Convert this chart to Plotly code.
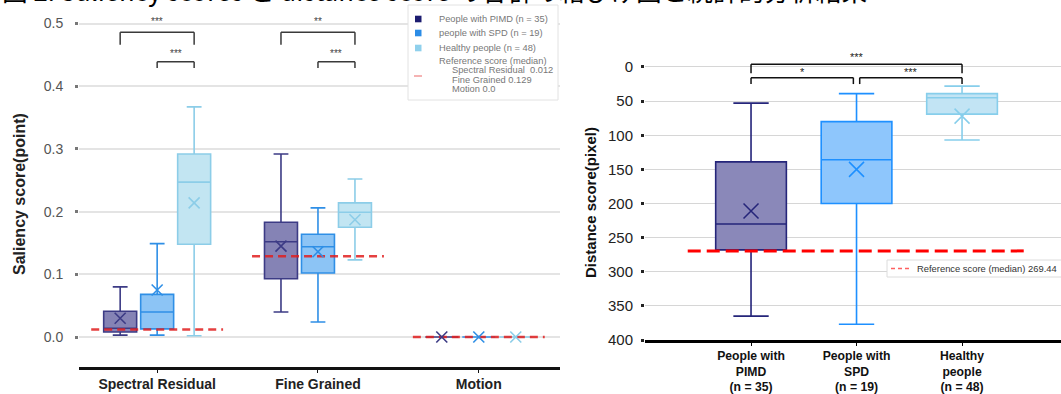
import plotly.graph_objects as go

W, H = 1061, 394


def px(x):
    return x / W


def py(y):
    return 1 - y / H


# ---------------- data: saliency scores (left) ----------------
sal_categories = ["Spectral Residual", "Fine Grained", "Motion"]
group_names = ["People with PIMD (n = 35)", "people with SPD (n = 19)", "Healthy people (n = 48)"]
# rows = groups (PIMD, SPD, Healthy); columns = categories
sal_lower = [[0.003, 0.040, 0.0], [0.003, 0.024, 0.0], [0.002, 0.123, 0.0]]
sal_q1 = [[0.008, 0.093, 0.0], [0.013, 0.102, 0.0], [0.148, 0.175, 0.0]]
sal_median = [[0.014, 0.152, 0.0], [0.040, 0.144, 0.0], [0.247, 0.199, 0.0]]
sal_q3 = [[0.041, 0.183, 0.0], [0.068, 0.164, 0.0], [0.292, 0.214, 0.0]]
sal_upper = [[0.080, 0.292, 0.0], [0.149, 0.206, 0.0], [0.367, 0.252, 0.0]]
sal_mean = [[0.030, 0.145, 0.0], [0.075, 0.136, 0.0], [0.214, 0.187, 0.0]]
sal_reference = [0.012, 0.129, 0.0]
sal_ticks = [0.0, 0.1, 0.2, 0.3, 0.4, 0.5]
sal_tick_labels = ["0.0", "0.1", "0.2", "0.3", "0.4", "0.5"]
# (category, group a, group b, level, label)
sal_sig = [(0, 0, 2, 0, "***"), (0, 1, 2, 1, "***"), (1, 0, 2, 0, "**"), (1, 1, 2, 1, "***")]
sal_legend_ref = ["Reference score (median)", "Spectral Residual  0.012", "Fine Grained 0.129", "Motion 0.0"]

# ---------------- data: distance score (right) ----------------
dist_categories = ["People with<br>PIMD<br>(n = 35)", "People with<br>SPD<br>(n = 19)", "Healthy<br>people<br>(n = 48)"]
dist_lower = [53, 39, 28]
dist_q1 = [139, 80, 39]
dist_median = [230, 136, 45]
dist_q3 = [268, 200, 69]
dist_upper = [365, 377, 107]
dist_mean = [211, 150, 72]
dist_reference = 269.44
dist_ticks = [0, 50, 100, 150, 200, 250, 300, 350, 400]
# (group a, group b, level, label)
dist_sig = [(0, 2, 0, "***"), (0, 1, 1, "*"), (1, 2, 1, "***")]

title_text = "図 2. Saliency scores と distance score の各群の箱ひげ図と統計的分析結果"

# ---------------- styles ----------------
sal_line = ["#3c3b85", "#2f8fe6", "#8ccde8"]
sal_fill = ["#8583b5", "#8cc4f5", "#c2e5f2"]
dist_line = ["#25257a", "#1e90ff", "#87ceeb"]
dist_fill = ["#8a88b9", "#8ec6fc", "#c2e4f4"]
legend_sq = ["#1c1c70", "#2b8ce6", "#8fd0ec"]
offsets = [-0.23, 0.0, 0.23]
box_w_left = 0.205
box_w_right = 0.67

fig = go.Figure()

# left boxes
for g in range(3):
    for c in range(3):
        fig.add_trace(go.Box(
            x=[c + offsets[g]], q1=[sal_q1[g][c]], median=[sal_median[g][c]], q3=[sal_q3[g][c]],
            lowerfence=[sal_lower[g][c]], upperfence=[sal_upper[g][c]],
            width=box_w_left, whiskerwidth=0.45, fillcolor=sal_fill[g],
            line=dict(color=sal_line[g], width=1.6), boxpoints=False,
            name=group_names[g], showlegend=False, xaxis="x", yaxis="y"))

# left reference lines
for c in range(3):
    fig.add_trace(go.Scatter(
        x=[c - 0.41, c + 0.41], y=[sal_reference[c]] * 2, mode="lines",
        line=dict(color="rgba(225,30,30,0.85)", width=2.5, dash="8px,5px"),
        showlegend=False, hoverinfo="skip", xaxis="x", yaxis="y"))

# left means
for g in range(3):
    fig.add_trace(go.Scatter(
        x=[c + offsets[g] for c in range(3)], y=sal_mean[g], mode="markers",
        marker=dict(symbol="x-thin", size=11, line=dict(color=sal_line[g], width=1.6)),
        showlegend=False, xaxis="x", yaxis="y"))

# right boxes
for g in range(3):
    fig.add_trace(go.Box(
        x=[g], q1=[dist_q1[g]], median=[dist_median[g]], q3=[dist_q3[g]],
        lowerfence=[dist_lower[g]], upperfence=[dist_upper[g]],
        width=box_w_right, whiskerwidth=0.5, fillcolor=dist_fill[g],
        line=dict(color=dist_line[g], width=1.6), boxpoints=False,
        name=group_names[g], showlegend=False, xaxis="x2", yaxis="y2"))

fig.add_trace(go.Scatter(
    x=[-0.6, 2.6], y=[dist_reference] * 2, mode="lines",
    line=dict(color="#ff0000", width=3, dash="13px,6px"),
    showlegend=False, hoverinfo="skip", xaxis="x2", yaxis="y2"))

fig.add_trace(go.Scatter(
    x=[0, 1, 2], y=dist_mean, mode="markers",
    marker=dict(symbol="x-thin", size=15, color=dist_line, line=dict(color=dist_line, width=1.5)),
    showlegend=False, xaxis="x2", yaxis="y2"))

shapes = []
annotations = []

# left significance brackets
sal_levels = {0: (0.486, 0.466, 0.503), 1: (0.439, 0.429, 0.452)}
for c, a, b, lvl, lab in sal_sig:
    ytop, ybot, ytxt = sal_levels[lvl]
    xa, xb = c + offsets[a], c + offsets[b]
    for (x0, y0, x1, y1) in [(xa, ybot, xa, ytop), (xa, ytop, xb, ytop), (xb, ytop, xb, ybot)]:
        shapes.append(dict(type="line", xref="x", yref="y", x0=x0, y0=y0, x1=x1, y1=y1,
                           line=dict(color="#3a3a3a", width=1.5)))
    annotations.append(dict(x=(xa + xb) / 2, y=ytxt, xref="x", yref="y", text=lab, showarrow=False,
                            font=dict(size=10, color="#444", family="Arial"), yanchor="middle"))

# right significance brackets
dist_levels = {0: (-4.0, 9.0, -14.0), 1: (15.6, 25.0, 7.0)}
for a, b, lvl, lab in dist_sig:
    ytop, ybot, ytxt = dist_levels[lvl]
    xa = a + (0.03 if (lvl == 1 and a == 1) else 0)
    xb = b - (0.03 if (lvl == 1 and b == 1) else 0)
    for (x0, y0, x1, y1) in [(xa, ybot, xa, ytop), (xa, ytop, xb, ytop), (xb, ytop, xb, ybot)]:
        shapes.append(dict(type="line", xref="x2", yref="y2", x0=x0, y0=y0, x1=x1, y1=y1,
                           line=dict(color="#111", width=1.5)))
    annotations.append(dict(x=(xa + xb) / 2, y=ytxt, xref="x2", yref="y2", text=lab, showarrow=False,
                            font=dict(size=11, color="#222", family="Arial"), yanchor="middle"))

# left legend (manual)
shapes.append(dict(type="rect", xref="paper", yref="paper", x0=px(408), y0=py(100), x1=px(558), y1=py(5),
                   line=dict(color="#e2e2e2", width=1), fillcolor="white", layer="above"))
sq_y = [19, 33, 48]
for g in range(3):
    shapes.append(dict(type="rect", xref="paper", yref="paper", x0=px(415), x1=px(421.5),
                       y0=py(sq_y[g] + 3.3), y1=py(sq_y[g] - 3.3),
                       line=dict(width=0), fillcolor=legend_sq[g], layer="above"))
    annotations.append(dict(x=px(437), y=py(sq_y[g]), xref="paper", yref="paper", text=group_names[g],
                            showarrow=False, xanchor="left", yanchor="middle",
                            font=dict(size=9.3, color="#777", family="Arial")))
shapes.append(dict(type="line", xref="paper", yref="paper", x0=px(414), x1=px(422), y0=py(76), y1=py(76),
                   line=dict(color="#f08a8a", width=1.3), layer="above"))
ref_y = [61, 70, 80, 89]
ref_x = [437, 450, 450, 450]
for t, yy, xx in zip(sal_legend_ref, ref_y, ref_x):
    annotations.append(dict(x=px(xx), y=py(yy), xref="paper", yref="paper", text=t.replace("  ", "\u00a0 "),
                            showarrow=False, xanchor="left", yanchor="middle",
                            font=dict(size=9.3, color="#777", family="Arial")))

# right legend (manual)
shapes.append(dict(type="rect", xref="paper", yref="paper", x0=px(887), y0=py(277), x1=px(1070), y1=py(260),
                   line=dict(color="#dcdcdc", width=1), fillcolor="white", layer="above"))
shapes.append(dict(type="line", xref="paper", yref="paper", x0=px(891), x1=px(909), y0=py(268.5), y1=py(268.5),
                   line=dict(color="#ff6060", width=1.3, dash="4px,3px"), layer="above"))
annotations.append(dict(x=px(915), y=py(268.5), xref="paper", yref="paper",
                        text="Reference score (median) %.2f" % dist_reference,
                        showarrow=False, xanchor="left", yanchor="middle",
                        font=dict(size=9.4, color="#333", family="Arial")))

# axis titles
annotations.append(dict(x=px(19), y=py(194), xref="paper", yref="paper", text="<b>Saliency score(point)</b>",
                        textangle=-90, showarrow=False, xanchor="center", yanchor="middle",
                        font=dict(size=16, color="#222", family="Arial")))
annotations.append(dict(x=px(590), y=py(203), xref="paper", yref="paper", text="<b>Distance score(pixel)</b>",
                        textangle=-90, showarrow=False, xanchor="center", yanchor="middle",
                        font=dict(size=15, color="#111", family="Arial")))

# figure title (top edge clipped as in the reference)
annotations.append(dict(x=0, y=py(10), xref="paper", yref="paper", text=title_text,
                        showarrow=False, xanchor="left", yanchor="bottom",
                        font=dict(size=25.7, color="#000", family="Noto Sans CJK JP")))

fig.update_layout(
    width=W, height=H,
    margin=dict(l=0, r=0, t=0, b=0, autoexpand=False),
    paper_bgcolor="white", plot_bgcolor="white",
    showlegend=False,
    boxmode="overlay",
    font=dict(family="Arial"),
    xaxis=dict(domain=[px(79), px(560)], range=[-0.486, 2.505], anchor="y", automargin=False,
               tickvals=[0, 1, 2], ticktext=["<b>%s</b>" % s for s in sal_categories],
               tickfont=dict(size=14, color="#222", family="Arial"),
               showline=True, linecolor="#111", linewidth=3, ticks="outside", ticklen=3,
               tickcolor="#111", showgrid=False, zeroline=False, ticklabelstandoff=-1),
    yaxis=dict(domain=[py(367), py(5)], range=[-0.0478, 0.5295], anchor="x", automargin=False,
               tickvals=sal_ticks, ticktext=sal_tick_labels,
               tickfont=dict(size=14, color="#555", family="Arial"),
               showgrid=True, gridcolor="#e4e4e4", gridwidth=1.5, zeroline=False, showline=False,
               ticks="outside", ticklen=3, tickwidth=3, tickcolor="#777", ticklabelstandoff=9),
    xaxis2=dict(domain=[px(645), 1], range=[-1.005, 2.938], anchor="y2", automargin=False,
                tickvals=[0, 1, 2], ticktext=["<b>%s</b>" % s for s in dist_categories],
                tickfont=dict(size=12.2, color="#111", family="Arial"),
                showline=True, linecolor="#000", linewidth=3, ticks="outside", ticklen=3,
                tickcolor="#000", showgrid=False, zeroline=False, ticklabelstandoff=-1),
    yaxis2=dict(domain=[py(340), py(50)], range=[400, -24.9], anchor="x2", automargin=False,
                tickvals=dist_ticks, ticktext=[str(t) for t in dist_ticks],
                tickfont=dict(size=15, color="#222", family="Arial"),
                showgrid=True, gridcolor="#d6d6d6", gridwidth=1.2, zeroline=False, showline=False,
                ticks="outside", ticklen=3, tickwidth=3, tickcolor="#222", ticklabelstandoff=5),
    shapes=shapes,
    annotations=annotations,
)

fig.write_html(
    "out.html",
    config={"displayModeBar": False},
    post_script="document.body.style.margin='0';document.body.style.overflow='hidden';",
)
